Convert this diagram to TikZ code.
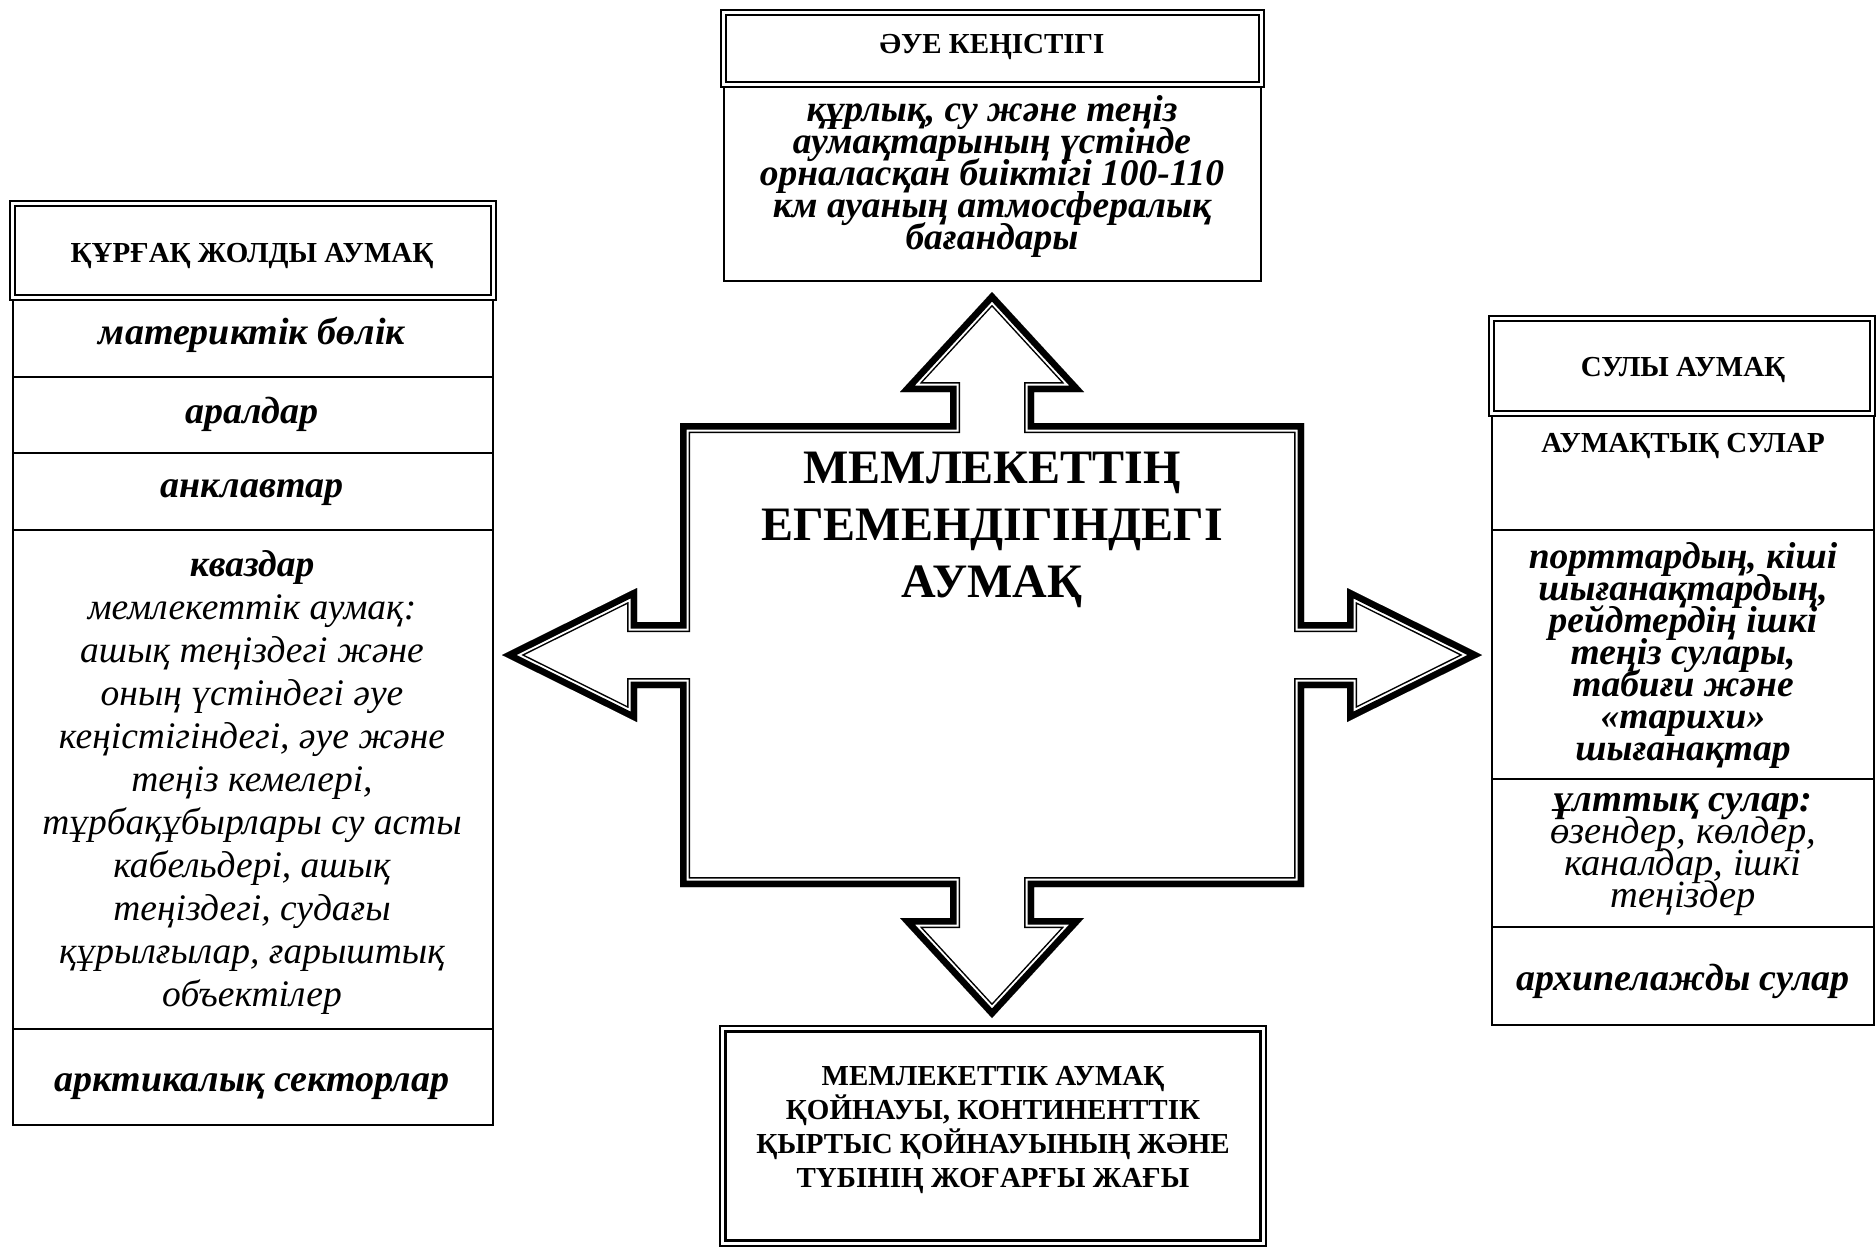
\documentclass[tikz,border=0pt]{standalone}
\usepackage{fontspec}
\setmainfont{Liberation Serif}

\begin{document}
\lineskiplimit=-100pt
\begin{tikzpicture}[x=1pt, y=-1pt,
        captext/.style={font=\fontsize{29}{34}\selectfont\bfseries, align=center},
        itemtext/.style={font=\fontsize{38}{43}\selectfont\bfseries\itshape, align=center},
        smalltext/.style={font=\fontsize{37.5}{32}\selectfont\bfseries\itshape, align=center},
        plaintext/.style={font=\fontsize{37.5}{43}\selectfont\itshape, align=center},
        rowrule/.style={line width=1.5pt},
        outerframe/.style={line width=2.2pt},
        innerframe/.style={line width=1.4pt}]
        \useasboundingbox (0,0) rectangle (1876,1248);
        % cross arrow in the middle: thick outer line, thin inner line
        \def\crosspath{(992,292) -- (1084,392) -- (1034,392) -- (1034,423) -- (1304,423)
            -- (1304,622) -- (1347,622) -- (1347,588) -- (1482,655) -- (1347,722)
            -- (1347,688) -- (1304,688) -- (1304,887) -- (1034,887) -- (1034,918)
            -- (1084,918) -- (992,1018) -- (900,918) -- (950,918) -- (950,887)
            -- (680,887) -- (680,688) -- (637,688) -- (637,722) -- (502,655)
            -- (637,588) -- (637,622) -- (680,622) -- (680,423) -- (950,423)
            -- (950,392) -- (900,392) -- cycle}
        \begin{scope}
            \clip \crosspath;
            \draw[line width=20pt, line join=miter] \crosspath;
            \draw[white, line width=17pt, line join=miter] \crosspath;
            \draw[line width=13pt, line join=miter] \crosspath;
        \end{scope}
        \node[font=\fontsize{48}{57}\selectfont\bfseries, align=center] (title) at (992,530)
            {МЕМЛЕКЕТТІҢ\\ЕГЕМЕНДІГІНДЕГІ\\АУМАҚ};
        % top box
        \draw[outerframe] (721,10) rectangle (1264,87);
        \draw[innerframe] (726,15) rectangle (1259,82);
        \draw[rowrule] (724,87) rectangle (1261,281);
        \node[captext] (air) at (992,47) {ӘУЕ КЕҢІСТІГІ};
        \node[smalltext] (airtext) at (992,176)
            {құрлық, су және теңіз\\аумақтарының үстінде\\орналасқан биіктігі 100-110\\км ауаның атмосфералық\\бағандары};
        % left box
        \draw[outerframe] (10,201) rectangle (496,300);
        \draw[innerframe] (15,206) rectangle (491,295);
        \draw[rowrule] (13,300) rectangle (493,1125);
        \foreach \y in {377, 453, 530, 1029}{
            \draw[rowrule] (13,\y) -- (493,\y);
        }
        \node[captext] (land) at (252,256) {ҚҰРҒАҚ ЖОЛДЫ АУМАҚ};
        \node[itemtext] (mainland) at (252,335) {материктік бөлік};
        \node[itemtext] (islands) at (252,414) {аралдар};
        \node[itemtext] (enclaves) at (252,493) {анклавтар};
        \node[plaintext] (quasi) at (252,782)
            {\textbf{кваздар}\\мемлекеттік аумақ:\\ашық теңіздегі және\\оның үстіндегі әуе\\кеңістігіндегі, әуе және\\теңіз кемелері,\\тұрбақұбырлары су асты\\кабельдері, ашық\\теңіздегі, судағы\\құрылғылар, ғарыштық\\объектілер};
        \node[itemtext] (arctic) at (252,1087) {арктикалық секторлар};
        % right box
        \draw[outerframe] (1489,316) rectangle (1875,416);
        \draw[innerframe] (1494,321) rectangle (1870,411);
        \draw[rowrule] (1492,416) rectangle (1874,1025);
        \foreach \y in {530, 779, 927}{
            \draw[rowrule] (1492,\y) -- (1874,\y);
        }
        \node[captext] (water) at (1683,370) {СУЛЫ АУМАҚ};
        \node[captext] (terrwater) at (1683,446) {АУМАҚТЫҚ СУЛАР};
        \node[smalltext] (inner) at (1683,655)
            {порттардың, кіші\\шығанақтардың,\\рейдтердің ішкі\\теңіз сулары,\\табиғи және\\«тарихи»\\шығанақтар};
        \node[smalltext, font=\fontsize{38.5}{32}\selectfont\itshape] (national) at (1683,855)
            {\textbf{ұлттық сулар:}\\өзендер, көлдер,\\каналдар, ішкі\\теңіздер};
        \node[itemtext] (archip) at (1683,981) {архипелажды сулар};
        % bottom box
        \draw[line width=1.2pt] (720,1026) rectangle (1266,1246);
        \draw[line width=2.6pt] (725.5,1031.5) rectangle (1260.5,1240.5);
        \node[captext] (subsoil) at (993,1130)
            {МЕМЛЕКЕТТІК АУМАҚ\\ҚОЙНАУЫ, КОНТИНЕНТТІК\\ҚЫРТЫС ҚОЙНАУЫНЫҢ ЖӘНЕ\\ТҮБІНІҢ ЖОҒАРҒЫ ЖАҒЫ};
\end{tikzpicture}
\end{document}
